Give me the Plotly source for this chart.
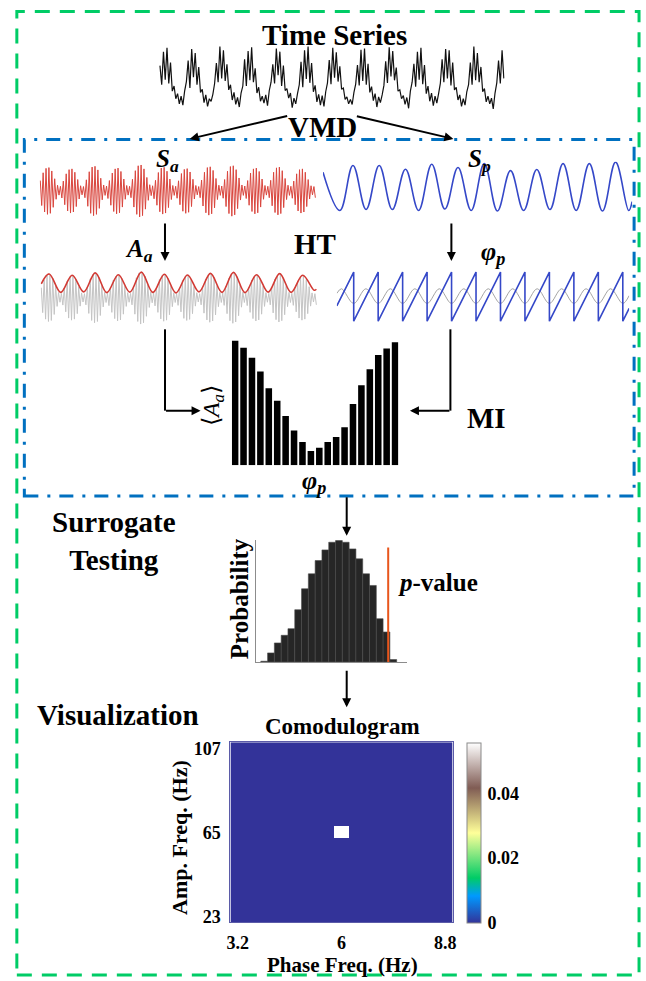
import plotly.graph_objects as go

W, H = 646, 981
FONT = "Liberation Serif, Times New Roman, serif"

# ---------------- data ----------------
# raw time series (normalised 0..1), 12 slow cycles with fast bursts near the peaks
ts_values = [
    0.70, 0.40, 0.92, 0.48, 0.98, 0.42, 0.75, 0.30, 0.38, 0.18, 0.26, 0.10, 0.22, 0.08, 0.30, 0.45,
    0.78, 0.35, 0.96, 0.52, 0.90, 0.40, 0.68, 0.28, 0.33, 0.12, 0.24, 0.06, 0.18, 0.14, 0.25, 0.42,
    0.74, 0.44, 1.00, 0.50, 0.94, 0.46, 0.72, 0.32, 0.40, 0.16, 0.28, 0.09, 0.20, 0.05, 0.27, 0.38,
    0.80, 0.38, 0.93, 0.47, 0.99, 0.44, 0.66, 0.27, 0.36, 0.14, 0.22, 0.11, 0.24, 0.07, 0.31, 0.44,
    0.72, 0.42, 0.97, 0.55, 0.92, 0.38, 0.70, 0.31, 0.34, 0.19, 0.27, 0.04, 0.19, 0.10, 0.26, 0.40,
    0.76, 0.36, 0.94, 0.49, 1.00, 0.43, 0.74, 0.29, 0.39, 0.13, 0.25, 0.08, 0.23, 0.06, 0.29, 0.43,
    0.79, 0.41, 0.98, 0.51, 0.91, 0.45, 0.69, 0.33, 0.35, 0.17, 0.21, 0.10, 0.17, 0.09, 0.28, 0.41,
    0.71, 0.39, 0.95, 0.46, 0.97, 0.40, 0.73, 0.28, 0.37, 0.15, 0.26, 0.05, 0.21, 0.12, 0.24, 0.39,
    0.77, 0.43, 0.99, 0.53, 0.93, 0.47, 0.67, 0.30, 0.32, 0.18, 0.23, 0.09, 0.20, 0.03, 0.30, 0.44,
    0.73, 0.37, 0.92, 0.48, 0.98, 0.41, 0.71, 0.26, 0.38, 0.14, 0.27, 0.07, 0.22, 0.11, 0.26, 0.42,
    0.80, 0.44, 0.96, 0.50, 0.94, 0.39, 0.75, 0.32, 0.36, 0.16, 0.24, 0.06, 0.18, 0.08, 0.29, 0.40,
    0.75, 0.40, 1.00, 0.47, 0.90, 0.44, 0.68, 0.29, 0.34, 0.13, 0.22, 0.10, 0.19, 0.02, 0.27, 0.43,
    0.78, 0.42, 0.94, 0.50,
]

# amplitude component S_a (fast carrier, 12 bursts)
sa_values = [
    0.40, -0.56, 0.70, -0.81, 0.87, -0.90, 0.90, -0.86, 0.77, -0.63, 0.47, -0.32, 0.22, -0.16, 0.18, -0.27,
    0.38, -0.53, 0.66, -0.77, 0.82, -0.85, 0.85, -0.81, 0.72, -0.60, 0.44, -0.31, 0.20, -0.15, 0.17, -0.26,
    0.43, -0.59, 0.74, -0.86, 0.92, -0.95, 0.95, -0.90, 0.81, -0.67, 0.49, -0.34, 0.23, -0.17, 0.19, -0.29,
    0.40, -0.55, 0.69, -0.79, 0.85, -0.88, 0.88, -0.84, 0.75, -0.62, 0.46, -0.32, 0.21, -0.16, 0.18, -0.26,
    0.45, -0.62, 0.78, -0.90, 0.97, -1.00, 1.00, -0.95, 0.85, -0.70, 0.52, -0.36, 0.24, -0.18, 0.20, -0.30,
    0.41, -0.55, 0.71, -0.80, 0.88, -0.89, 0.91, -0.85, 0.76, -0.64, 0.46, -0.33, 0.21, -0.17, 0.18, -0.28,
    0.39, -0.53, 0.67, -0.78, 0.83, -0.86, 0.86, -0.82, 0.73, -0.60, 0.45, -0.31, 0.21, -0.15, 0.17, -0.26,
    0.42, -0.58, 0.72, -0.84, 0.90, -0.93, 0.93, -0.88, 0.79, -0.65, 0.48, -0.33, 0.22, -0.17, 0.19, -0.28,
    0.44, -0.60, 0.76, -0.87, 0.94, -0.97, 0.97, -0.92, 0.82, -0.68, 0.50, -0.35, 0.23, -0.17, 0.19, -0.29,
    0.40, -0.55, 0.69, -0.79, 0.85, -0.88, 0.88, -0.84, 0.75, -0.62, 0.46, -0.32, 0.21, -0.16, 0.18, -0.26,
    0.41, -0.57, 0.72, -0.83, 0.89, -0.92, 0.92, -0.87, 0.78, -0.64, 0.48, -0.33, 0.22, -0.17, 0.18, -0.28,
    0.38, -0.53, 0.66, -0.77, 0.82, -0.85, 0.85, -0.81, 0.72, -0.60, 0.44, -0.31, 0.20, -0.15, 0.17, -0.26,
]

# amplitude envelope A_a (sample index, value)
env_t = [0, 5.5, 13.5, 21.5, 29.5, 37.5, 45.5, 53.5, 61.5, 69.5, 77.5, 85.5, 93.5,
         101.5, 109.5, 117.5, 125.5, 133.5, 141.5, 149.5, 157.5, 165.5, 173.5, 181.5, 189.5, 191]
env_v = [0.55, 0.93, 0.22, 0.88, 0.24, 0.97, 0.21, 0.90, 0.23, 1.00, 0.22, 0.92, 0.20,
         0.89, 0.24, 0.95, 0.22, 0.99, 0.21, 0.90, 0.23, 0.94, 0.22, 0.88, 0.30, 0.34]

# phase component S_p (time in cycles, normalised value)
sp_t = [0, 0.64, 1.14, 1.64, 2.14, 2.64, 3.14, 3.64, 4.14, 4.64, 5.14, 5.64, 6.14,
        6.64, 7.14, 7.64, 8.14, 8.64, 9.14, 9.64, 10.14, 10.64, 11.14, 11.64, 11.77]
sp_v = [0.65, -0.98, 0.94, -0.94, 0.94, -0.94, 0.78, -0.98, 0.99, -0.92, 0.85, -0.98, 1.02,
        -1.00, 0.72, -0.98, 0.77, -0.94, 1.02, -0.98, 1.02, -1.00, 1.08, -0.98, -0.60]

# instantaneous phase phi_p (time in cycles, radians)
phi_t = [0, 0.69, 0.69, 1.69, 1.69, 2.69, 2.69, 3.69, 3.69, 4.69, 4.69, 5.69, 5.69,
         6.69, 6.69, 7.69, 7.69, 8.69, 8.69, 9.69, 9.69, 10.69, 10.69, 11.69, 11.69, 11.95]
phi_v = [-1.19, 3.14, -3.14, 3.14, -3.14, 3.14, -3.14, 3.14, -3.14, 3.14, -3.14, 3.14, -3.14,
         3.14, -3.14, 3.14, -3.14, 3.14, -3.14, 3.14, -3.14, 3.14, -3.14, 3.14, -3.14, -1.50]
# faint phase signal drawn behind the sawtooth
phs_t = [0, 0.19, 0.69, 1.19, 1.69, 2.19, 2.69, 3.19, 3.69, 4.19, 4.69, 5.19, 5.69, 6.19, 6.69,
         7.19, 7.69, 8.19, 8.69, 9.19, 9.69, 10.19, 10.69, 11.19, 11.69, 11.95]
phs_v = [0.41, 1.00, -0.88, 1.00, -0.88, 1.00, -0.88, 1.00, -0.88, 1.00, -0.88, 1.00, -0.88, 1.00,
         -0.88, 1.00, -0.88, 1.00, -0.88, 1.00, -0.88, 1.00, -0.88, 1.00, -0.88, 0.13]

# mean amplitude per phase bin
phase_bins = [-171, -153, -135, -117, -99, -81, -63, -45, -27, -9,
              9, 27, 45, 63, 81, 99, 117, 135, 153, 171]
mean_amp = [377, 355, 325, 283, 233, 195, 149, 105, 70, 43,
            53, 70, 85, 115, 185, 242, 290, 333, 353, 372]

# surrogate MI distribution
surr_bins = [1, 2, 3, 4, 5, 6, 7, 8, 9, 10, 11, 12, 13, 14, 15, 16, 17, 18, 19, 20]
surr_prob = [2, 27, 57, 80, 100, 157, 220, 265, 305, 337,
             360, 365, 360, 340, 310, 265, 230, 130, 90, 7]
observed_mi = 19.25

# comodulogram
phase_freqs = [3.2, 3.6, 4.0, 4.4, 4.8, 5.2, 5.6, 6.0, 6.4, 6.8, 7.2, 7.6, 8.0, 8.4, 8.8]
amp_freqs = [23, 29, 35, 41, 47, 53, 59, 65, 71, 77, 83, 89, 95, 101, 107]
peak_phase, peak_amp, peak_mi = 6.0, 65, 0.0557
como_z = [[peak_mi if (f == peak_phase and a == peak_amp) else 0.0 for f in phase_freqs]
          for a in amp_freqs]

# ---------------- helpers ----------------
def X(px):
    return px / W

def Y(py):
    return 1 - py / H

def dx(a, b):
    return [a / W, b / W]

def dy(top, bottom):
    return [1 - bottom / H, 1 - top / H]

def hid(dom, rng, anchor):
    return dict(domain=dom, range=rng, visible=False, fixedrange=True, anchor=anchor,
                showgrid=False, zeroline=False)

fig = go.Figure()

# 1 raw time series
fig.add_trace(go.Scatter(y=ts_values, mode="lines", line=dict(color="#111111", width=1.2),
                         xaxis="x", yaxis="y", hoverinfo="skip"))
# 2 S_a
fig.add_trace(go.Scatter(y=sa_values, mode="lines", line=dict(color="#d9463e", width=1.0),
                         xaxis="x2", yaxis="y2", hoverinfo="skip"))
# 3 S_p
fig.add_trace(go.Scatter(x=sp_t, y=sp_v, mode="lines", line=dict(color="#3548c8", width=1.6, shape="spline", smoothing=1.1),
                         xaxis="x3", yaxis="y3", hoverinfo="skip"))
# 4 A_a: gray signal + envelope
fig.add_trace(go.Scatter(y=sa_values, mode="lines", line=dict(color="#c4c4c4", width=1.0),
                         xaxis="x4", yaxis="y4", hoverinfo="skip"))
fig.add_trace(go.Scatter(x=env_t, y=env_v, mode="lines", line=dict(color="#d23a34", width=1.6, shape="spline", smoothing=1.0),
                         xaxis="x4", yaxis="y4", hoverinfo="skip"))
# 5 phi_p
fig.add_trace(go.Scatter(x=phs_t, y=phs_v, mode="lines", line=dict(color="#9a9a9a", width=0.9, shape="spline", smoothing=1.0),
                         xaxis="x5", yaxis="y5", hoverinfo="skip"))
fig.add_trace(go.Scatter(x=phi_t, y=phi_v, mode="lines", line=dict(color="#3548c8", width=1.6),
                         xaxis="x5", yaxis="y5", hoverinfo="skip"))
# 6 MI bars
fig.add_trace(go.Bar(x=phase_bins, y=mean_amp, width=[14.0] * len(phase_bins),
                     marker=dict(color="black", line=dict(width=0)),
                     xaxis="x6", yaxis="y6", hoverinfo="skip"))
# 7 surrogate histogram
fig.add_trace(go.Bar(x=surr_bins, y=surr_prob, width=[1.0] * len(surr_bins),
                     marker=dict(color="#262626", line=dict(width=0.6, color="#4a4a4a")),
                     xaxis="x7", yaxis="y7", hoverinfo="skip"))
# 8 comodulogram
terrain = [[0.0, "rgb(51,51,153)"], [0.15, "rgb(0,153,255)"], [0.25, "rgb(0,204,102)"],
           [0.5, "rgb(255,255,153)"], [0.75, "rgb(128,92,84)"], [1.0, "rgb(255,255,255)"]]
fig.add_trace(go.Heatmap(x=phase_freqs, y=amp_freqs, z=como_z, colorscale=terrain,
                         zmin=0, zmax=peak_mi, xaxis="x8", yaxis="y8", hoverinfo="skip",
                         colorbar=dict(x=X(469), xanchor="left", y=Y(835.5), yanchor="middle",
                                       len=181.5 / H, lenmode="fraction", thickness=14,
                                       xpad=0, ypad=0, outlinewidth=1, outlinecolor="#8a8a8a",
                                       tickvals=[0, 0.02, 0.04], ticktext=["0", "0.02", "0.04"],
                                       ticks="outside", ticklen=3, tickcolor="rgba(0,0,0,0)",
                                       tickfont=dict(family=FONT, size=18, color="black", weight="bold"))))

tickfont = dict(family=FONT, size=18, color="black", weight="bold")
layout = dict(
    width=W, height=H, margin=dict(l=0, r=0, t=0, b=0),
    paper_bgcolor="white", plot_bgcolor="rgba(0,0,0,0)", showlegend=False,
    xaxis=hid(dx(157, 507), [-0.5, len(ts_values) - 0.5], "y"),
    yaxis=hid(dy(41, 109), [-0.03, 1.03], "x"),
    xaxis2=hid(dx(36, 316), [-0.5, len(sa_values) - 0.5], "y2"),
    yaxis2=hid(dy(161, 216), [-1.05, 1.05], "x2"),
    xaxis3=hid(dx(323, 636), [0, 11.77], "y3"),
    yaxis3=hid(dy(159, 211), [-1.1, 1.1], "x3"),
    xaxis4=hid(dx(37, 317), [-0.5, len(sa_values) - 0.5], "y4"),
    yaxis4=hid(dy(269, 324), [-1.05, 1.05], "x4"),
    xaxis5=hid(dx(337, 633), [0, 11.95], "y5"),
    yaxis5=hid(dy(269, 321), [-3.3, 3.3], "x5"),
    xaxis6=hid(dx(230.7, 399.3), [-178.0, 178.0], "y6"),
    yaxis6=hid(dy(339.3, 465), [0, 377], "x6"),
    xaxis7=dict(domain=dx(255, 408), range=[-0.227, 22.01], anchor="y7", showline=True,
                linecolor="#8c8c8c", linewidth=1, showticklabels=False, ticks="", showgrid=False,
                zeroline=False, fixedrange=True),
    yaxis7=dict(domain=dy(540, 663.3), range=[0, 368], anchor="x7", showline=True,
                linecolor="#8c8c8c", linewidth=1, showticklabels=False, ticks="", showgrid=False,
                zeroline=False, fixedrange=True),
    xaxis8=dict(domain=dx(229.3, 454.3), range=[3.0, 9.0], anchor="y8", tickvals=[3.2, 6, 8.8],
                ticktext=["3.2", "6", "8.8"], ticks="outside", ticklen=4, tickcolor="rgba(0,0,0,0)",
                tickfont=tickfont, showgrid=False, zeroline=False, showline=True, mirror=True,
                linecolor="#5b5ba8", linewidth=1, fixedrange=True),
    yaxis8=dict(domain=dy(744.3, 926), range=[20, 110], anchor="x8", tickvals=[23, 65, 107],
                ticktext=["23", "65", "107"], ticks="outside", ticklen=5, tickcolor="rgba(0,0,0,0)",
                tickfont=tickfont, showgrid=False, zeroline=False, showline=True, mirror=True,
                linecolor="#5b5ba8", linewidth=1, fixedrange=True),
)
fig.update_layout(**layout)

# orange p-value marker line
fig.add_shape(type="line", xref="x7", yref="y7 domain", x0=observed_mi, x1=observed_mi,
              y0=0, y1=0.935, line=dict(color="#e8561c", width=2))

# frames
fig.add_shape(type="rect", xref="paper", yref="paper", x0=X(13), x1=X(643), y0=Y(979), y1=Y(7.5),
              line=dict(color="#00cc66", width=3, dash="15px,10px"), layer="below")
fig.add_shape(type="rect", xref="paper", yref="paper", x0=X(20.6), x1=X(638), y0=Y(496), y1=Y(136.7),
              line=dict(color="#0070c0", width=3, dash="14px,9px,3px,9px"), layer="below")

# elbow connector verticals
for xv in (163, 452):
    fig.add_shape(type="line", xref="paper", yref="paper", x0=X(xv), x1=X(xv), y0=Y(328), y1=Y(410),
                  line=dict(color="black", width=2))

annotations = []

def arrow(x0, y0, x1, y1):
    annotations.append(dict(x=X(x1), y=Y(y1), ax=x0 - x1, ay=y0 - y1, xref="paper", yref="paper",
                            axref="pixel", ayref="pixel", showarrow=True, arrowhead=2,
                            arrowsize=0.9, arrowwidth=2, arrowcolor="black", text=""))

arrow(287, 112.7, 188, 136)
arrow(357, 113, 455, 136)
arrow(163, 220, 163, 259)
arrow(453, 220, 453, 259)
arrow(163, 410, 199, 410)
arrow(452, 410, 411, 410)
arrow(347, 496, 347, 536)
arrow(347, 671, 347, 709)

def text(t, x, y, size, angle=0):
    annotations.append(dict(text=t, x=X(x), y=Y(y), xref="paper", yref="paper", showarrow=False,
                            xanchor="center", yanchor="middle", textangle=angle,
                            font=dict(family=FONT, size=size, color="black")))

text("<b>Time Series</b>", 335, 31, 29)
text("<b>VMD</b>", 322, 124, 29)
text("<b><i>S</i><sub><i>a</i></sub></b>", 166, 158, 25)
text("<b><i>S</i><sub><i>p</i></sub></b>", 481, 158, 25)
text("<b><i>A</i><sub><i>a</i></sub></b>", 137, 249, 25)
text("<b>HT</b>", 315, 242, 29)
text("<b><i>\u03c6</i><sub><i>p</i></sub></b>", 495, 251, 26)
text("<b>MI</b>", 489, 417, 29)
text("\u27e8<i>A</i><sub><i>a</i></sub>\u27e9", 211, 405, 24, -90)
text("<b><i>\u03c6</i><sub><i>p</i></sub></b>", 314, 482, 26)
text("<b>Surrogate<br>Testing</b>", 111, 541, 29)
text("<b>Probability</b>", 238, 600, 25, -90)
text("<b><i>p</i>-value</b>", 439, 583, 25)
text("<b>Visualization</b>", 115, 717, 29)
text("<b>Comodulogram</b>", 343, 728, 23)
text("<b>Amp. Freq. (Hz)</b>", 177, 840, 22, -90)
text("<b>Phase Freq. (Hz)</b>", 343, 969, 21)

fig.update_layout(annotations=annotations)

fig.write_html("out.html", config={"displayModeBar": False, "staticPlot": True},
               post_script="document.body.style.margin='0px';document.body.style.overflow='hidden';")
